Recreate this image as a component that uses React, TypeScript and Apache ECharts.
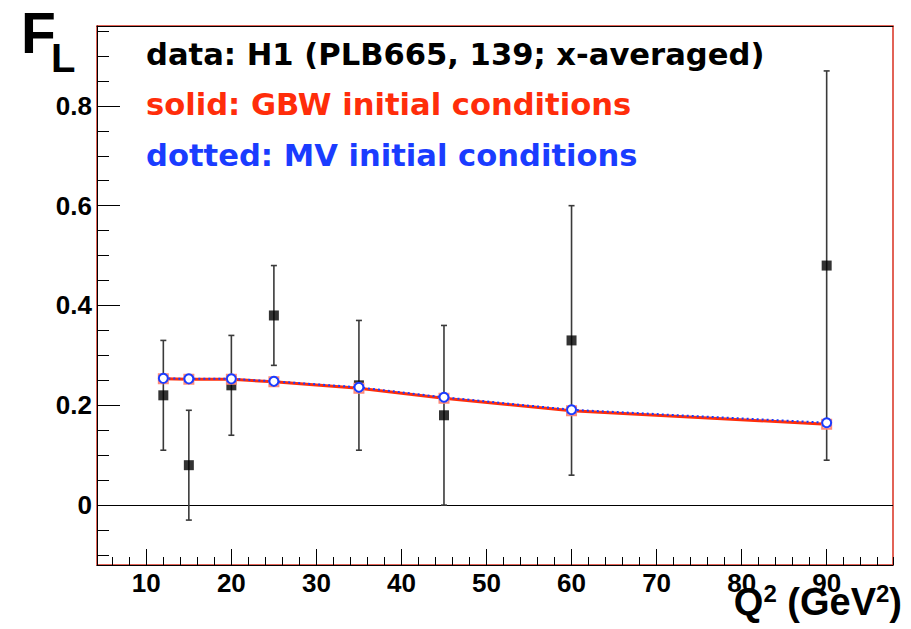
import React, { useEffect, useRef } from "react";
import * as echarts from "echarts";

const Q2 = [12, 15, 20, 25, 35, 45, 60, 90];
const FL_DATA = [0.22, 0.08, 0.24, 0.38, 0.24, 0.18, 0.33, 0.48];
const FL_ERR_LOW = [0.11, -0.03, 0.14, 0.28, 0.11, 0.0, 0.06, 0.09];
const FL_ERR_HIGH = [0.33, 0.19, 0.34, 0.48, 0.37, 0.36, 0.6, 0.87];
const FL_GBW = [0.253, 0.252, 0.252, 0.247, 0.234, 0.214, 0.189, 0.162];
const FL_MV = [0.254, 0.253, 0.253, 0.248, 0.236, 0.216, 0.191, 0.165];

const X_MIN = 4.2;
const X_MAX = 97.8;
const Y_MIN = -0.12;
const Y_MAX = 0.96;

const LEGEND_LINES = [
  { text: "data: H1 (PLB665, 139; x-averaged)", color: "#000000" },
  { text: "solid: GBW initial conditions", color: "#ff2d0a" },
  { text: "dotted: MV initial conditions", color: "#1a3cff" },
];

const RED = "#ff2d0a";
const BLUE = "#1a3cff";
const LABEL_FONT = "'Liberation Sans', Arial, Helvetica, sans-serif";
const LEGEND_FONT = "'DejaVu Sans', sans-serif";

export default function App() {
  const ref = useRef<HTMLDivElement>(null);

  useEffect(() => {
    if (!ref.current) return;
    const chart = echarts.init(ref.current, undefined, { renderer: "svg" });

    const errData = Q2.map((x, i) => [x, FL_DATA[i], FL_ERR_LOW[i], FL_ERR_HIGH[i]]);
    const dataPts = Q2.map((x, i) => [x, FL_DATA[i]]);
    const gbwPts = Q2.map((x, i) => [x, FL_GBW[i]]);
    const mvPts = Q2.map((x, i) => [x, FL_MV[i]]);

    const axisLabelStyle = {
      fontFamily: LABEL_FONT,
      fontWeight: "bold" as const,
      fontSize: 26,
      color: "#000",
    };

    const option: any = {
      animation: false,
      backgroundColor: "#ffffff",
      grid: {
        left: 97,
        top: 26,
        width: 796,
        height: 539,
        show: true,
        borderColor: "#d93020",
        borderWidth: 1.5,
        backgroundColor: "transparent",
      },
      xAxis: [
        {
          type: "value",
          position: "bottom",
          min: X_MIN,
          max: X_MAX,
          minInterval: 10,
          maxInterval: 10,
          axisLine: { show: true, onZero: false, lineStyle: { color: "#000", width: 1 } },
          axisTick: { show: true, inside: true, length: 16, lineStyle: { color: "#000", width: 1 } },
          axisLabel: { ...axisLabelStyle, margin: 5, showMinLabel: false, showMaxLabel: false },
          splitLine: { show: false },
        },
        {
          type: "value",
          position: "bottom",
          min: X_MIN,
          max: X_MAX,
          minInterval: 2,
          maxInterval: 2,
          axisLine: { show: false, onZero: false },
          axisTick: { show: true, inside: true, length: 8, lineStyle: { color: "#000", width: 1 } },
          axisLabel: { show: false },
          splitLine: { show: false },
        },
        {
          type: "value",
          position: "top",
          min: X_MIN,
          max: X_MAX,
          axisLine: { show: true, onZero: false, lineStyle: { color: "#000", width: 1 } },
          axisTick: { show: false },
          axisLabel: { show: false },
          splitLine: { show: false },
        },
      ],
      yAxis: [
        {
          type: "value",
          position: "left",
          min: Y_MIN,
          max: Y_MAX,
          minInterval: 0.2,
          maxInterval: 0.2,
          axisLine: { show: true, onZero: false, lineStyle: { color: "#000", width: 1 } },
          axisTick: { show: true, inside: true, length: 23, lineStyle: { color: "#000", width: 1 } },
          axisLabel: {
            ...axisLabelStyle,
            margin: 5,
            showMinLabel: false,
            showMaxLabel: false,
            formatter: (v: number) => (Math.abs(v) < 1e-9 ? "0" : v.toFixed(1)),
          },
          splitLine: { show: false },
        },
        {
          type: "value",
          position: "left",
          min: Y_MIN,
          max: Y_MAX,
          minInterval: 0.05,
          maxInterval: 0.05,
          axisLine: { show: false, onZero: false },
          axisTick: { show: true, inside: true, length: 12, lineStyle: { color: "#000", width: 1 } },
          axisLabel: { show: false },
          splitLine: { show: false },
        },
      ],
      series: [
        {
          type: "custom",
          name: "errors",
          xAxisIndex: 0,
          yAxisIndex: 0,
          z: 2,
          data: errData,
          renderItem: (params: any, api: any) => {
            const x = api.value(0);
            const lo = api.value(2);
            const hi = api.value(3);
            const pHi = api.coord([x, hi]);
            const pLo = api.coord([x, lo]);
            const cap = 3;
            const st = { stroke: "#3a3a3a", lineWidth: 1.6 };
            return {
              type: "group",
              children: [
                { type: "line", shape: { x1: pHi[0], y1: pHi[1], x2: pLo[0], y2: pLo[1] }, style: st },
                { type: "line", shape: { x1: pHi[0] - cap, y1: pHi[1], x2: pHi[0] + cap, y2: pHi[1] }, style: st },
                { type: "line", shape: { x1: pLo[0] - cap, y1: pLo[1], x2: pLo[0] + cap, y2: pLo[1] }, style: st },
              ],
            };
          },
        },
        {
          type: "scatter",
          name: "H1 data",
          xAxisIndex: 0,
          yAxisIndex: 0,
          z: 3,
          symbol: "rect",
          symbolSize: 10,
          itemStyle: { color: "#000" },
          data: dataPts,
          markLine: {
            silent: true,
            symbol: "none",
            label: { show: false },
            lineStyle: { color: "#000", type: "solid", width: 1 },
            data: [{ yAxis: 0 }],
            z: 1,
          },
        },
        {
          type: "line",
          name: "GBW",
          xAxisIndex: 0,
          yAxisIndex: 0,
          z: 4,
          data: gbwPts,
          symbol: "emptyRect",
          symbolSize: 9,
          showAllSymbol: true,
          lineStyle: { color: RED, width: 3, type: "solid" },
          itemStyle: { color: "#ff8a7a", borderColor: "#ff6a55", borderWidth: 1.5 },
        },
        {
          type: "line",
          name: "MV",
          xAxisIndex: 0,
          yAxisIndex: 0,
          z: 5,
          data: mvPts,
          symbol: "emptyCircle",
          symbolSize: 9,
          showAllSymbol: true,
          lineStyle: { color: BLUE, width: 2, type: [2, 3] },
          itemStyle: { color: BLUE, borderColor: BLUE, borderWidth: 1.5 },
        },
      ],
      graphic: [
        {
          type: "text",
          x: 21,
          y: 33,
          style: {
            text: "F",
            font: `bold 57px ${LABEL_FONT}`,
            fill: "#000",
            verticalAlign: "middle",
            align: "left",
          },
        },
        {
          type: "text",
          x: 51,
          y: 58,
          style: {
            text: "L",
            font: `bold 40px ${LABEL_FONT}`,
            fill: "#000",
            verticalAlign: "middle",
            align: "left",
          },
        },
        ...LEGEND_LINES.map((l, i) => ({
          type: "text",
          x: 146,
          y: 54 + i * 50.5,
          style: {
            text: l.text,
            font: `bold 30.6px ${LEGEND_FONT}`,
            fill: l.color,
            verticalAlign: "middle",
            align: "left",
          },
        })),
        {
          type: "text",
          x: 902,
          y: 601,
          style: {
            text: "{b|Q}{s|2}{b| (GeV}{s|2}{b|)}",
            align: "right",
            verticalAlign: "middle",
            fill: "#000",
            rich: {
              b: { fontFamily: LABEL_FONT, fontWeight: "bold", fontSize: 38, lineHeight: 40, verticalAlign: "bottom", fill: "#000" },
              s: { fontFamily: LABEL_FONT, fontWeight: "bold", fontSize: 24, lineHeight: 24, verticalAlign: "top", fill: "#000" },
            },
          },
        },
      ],
    };

    chart.setOption(option);
    return () => chart.dispose();
  }, []);

  return (
    <div
      ref={ref}
      style={{ position: "fixed", left: 0, top: 0, width: 911, height: 629, background: "#fff" }}
    />
  );
}
